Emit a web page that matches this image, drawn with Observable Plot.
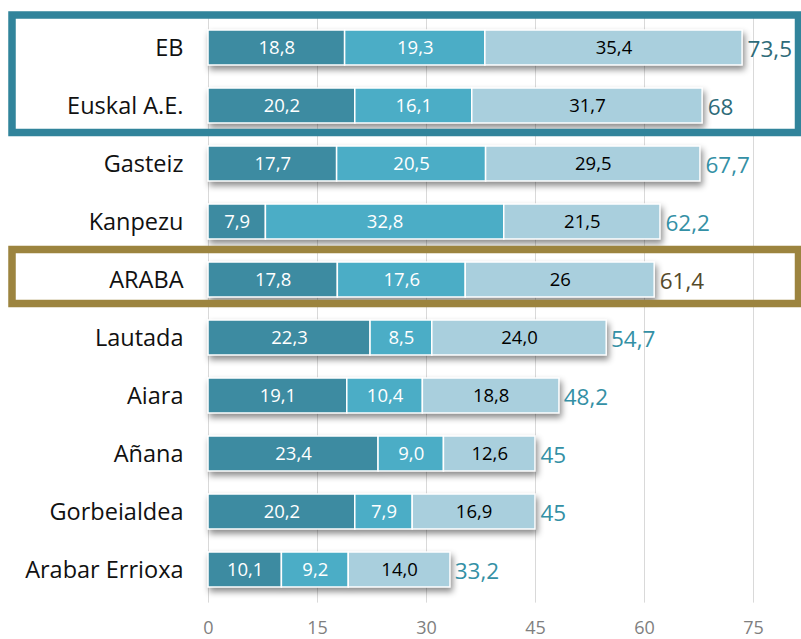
<!DOCTYPE html>
<html><head><meta charset="utf-8">
<script src="https://cdn.jsdelivr.net/npm/d3@7"></script>
<script src="https://cdn.jsdelivr.net/npm/@observablehq/plot@0.6"></script>
<style>
body{margin:0;background:#fff;}
#chart svg{display:block;}
</style></head><body><div id="chart"></div>
<script>
const categories = ["EB","Euskal A.E.","Gasteiz","Kanpezu","ARABA","Lautada","Aiara","Añana","Gorbeialdea","Arabar Errioxa"];
const values1 = [18.8,20.2,17.7,7.9,17.8,22.3,19.1,23.4,20.2,10.1];
const values2 = [19.3,16.1,20.5,32.8,17.6,8.5,10.4,9.0,7.9,9.2];
const values3 = [35.4,31.7,29.5,21.5,26,24.0,18.8,12.6,16.9,14.0];
const labels1 = ["18,8","20,2","17,7","7,9","17,8","22,3","19,1","23,4","20,2","10,1"];
const labels2 = ["19,3","16,1","20,5","32,8","17,6","8,5","10,4","9,0","7,9","9,2"];
const labels3 = ["35,4","31,7","29,5","21,5","26","24,0","18,8","12,6","16,9","14,0"];
const totals = [73.5,68,67.7,62.2,61.4,54.7,48.2,45,45,33.2];
const totalLabels = ["73,5","68","67,7","62,2","61,4","54,7","48,2","45","45","33,2"];
const xTicks = [0,15,30,45,60,75];
const groupEus = ["EB","Euskal A.E."];
const groupAraba = ["ARABA"];

const seriesColors = {s1:"#3d8ba1", s2:"#4badc6", s3:"#a9cfdd"};
const rows = [];
categories.forEach((c,i)=>{
  rows.push({cat:c, series:"s1", value:values1[i], label:labels1[i]});
  rows.push({cat:c, series:"s2", value:values2[i], label:labels2[i]});
  rows.push({cat:c, series:"s3", value:values3[i], label:labels3[i]});
});
const totalsData = categories.map((c,i)=>({cat:c,total:totals[i],label:totalLabels[i]}));
const totalColor = d => groupEus.includes(d.cat) ? "#2e6b79" : groupAraba.includes(d.cat) ? "#54492a" : "#3490a5";

const plot = Plot.plot({
  width:801, height:639,
  marginLeft:208, marginRight:48, marginTop:14.6, marginBottom:36.4,
  style:{fontFamily:"'Open Sans', sans-serif", background:"#fff", overflow:"visible"},
  color:{type:"identity"},
  x:{domain:[0,75], label:null},
  y:{domain:categories, paddingInner:0.4, paddingOuter:0.2, label:null},
  marks:[
    Plot.ruleX(xTicks, {stroke:"#d9d9d9", strokeWidth:1}),
    Plot.barX(rows, {x:"value", y:"cat", fill:d=>seriesColors[d.series], stroke:"#fff", strokeWidth:1.5}),
    Plot.text(rows, Plot.stackX({x:"value", y:"cat", text:"label", fill:d=>d.series==="s3"?"#000":"#fff", fontSize:18.5})),
    Plot.text(totalsData, {x:"total", y:"cat", text:"label", textAnchor:"start", dx:5, dy:2, fontSize:22.5, fill:totalColor}),
    Plot.axisX({ticks:xTicks, tickSize:0, tickPadding:18, fontSize:18, color:"#7f7f7f", label:null}),
    Plot.axisY({tickSize:0, tickPadding:25, fontSize:23.5, color:"#111", label:null})
  ]
});
document.getElementById("chart").appendChild(plot);

d3.select(plot).selectAll('g[aria-label="bar"]').style("filter","drop-shadow(2px 4px 3px rgba(0,0,0,0.45))");

const y = plot.scale("y");
const bw = y.bandwidth;
const svg = d3.select(plot);
function box(first, last, color, padTop, padBottom){
  const top = y.apply(first) - padTop;
  const bottom = y.apply(last) + bw + padBottom;
  svg.append("rect").attr("x",12).attr("y",top).attr("width",786.5).attr("height",bottom-top)
    .attr("fill","none").attr("stroke",color).attr("stroke-width",7.5);
}
box(groupEus[0], groupEus[groupEus.length-1], "#31849b", 15, 9.5);
box(groupAraba[0], groupAraba[0], "#9c843f", 12.5, 6.5);
</script></body></html>
